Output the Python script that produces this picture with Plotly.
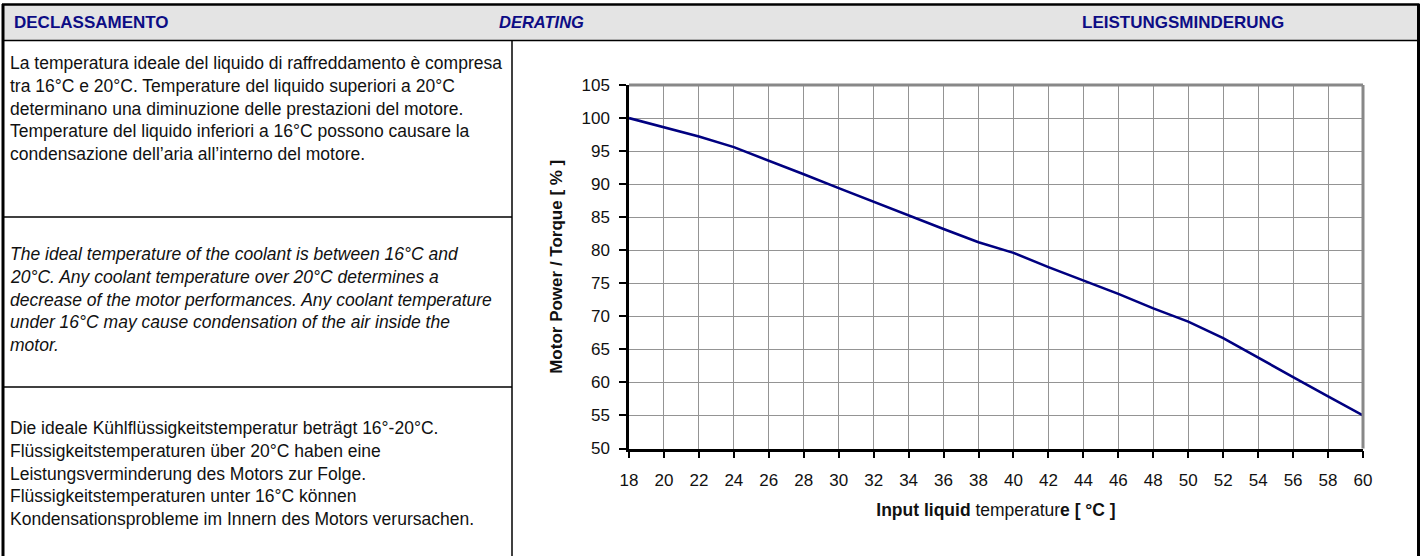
import plotly.graph_objects as go

W, H = 1426, 556

# ---- data ----
temperature_c = [18, 20, 22, 24, 26, 28, 30, 32, 34, 36, 38, 40, 42, 44, 46, 48, 50, 52, 54, 56, 58, 60]
power_torque_pct = [100, 98.6, 97.2, 95.6, 93.6, 91.5, 89.4, 87.3, 85.2, 83.2, 81.2, 79.6, 77.45, 75.4, 73.4, 71.2, 69.2, 66.7, 63.7, 60.8, 57.9, 55]
x_ticks = list(range(18, 61, 2))
y_ticks = list(range(50, 106, 5))

header_texts = ["DECLASSAMENTO", "DERATING", "LEISTUNGSMINDERUNG"]
text_it = [
    "La temperatura ideale del liquido di raffreddamento è compresa",
    "tra 16°C e 20°C. Temperature del liquido superiori a 20°C",
    "determinano una diminuzione delle prestazioni del motore.",
    "Temperature del liquido inferiori a 16°C possono causare la",
    "condensazione dell’aria all’interno del motore.",
]
text_en = [
    "The ideal temperature of the coolant is between 16°C and",
    "20°C. Any coolant temperature over 20°C determines a",
    "decrease of the motor performances. Any coolant temperature",
    "under 16°C may cause condensation of the air inside the",
    "motor.",
]
text_de = [
    "Die ideale Kühlflüssigkeitstemperatur beträgt 16°-20°C.",
    "Flüssigkeitstemperaturen über 20°C haben eine",
    "Leistungsverminderung des Motors zur Folge.",
    "Flüssigkeitstemperaturen unter 16°C können",
    "Kondensationsprobleme im Innern des Motors verursachen.",
]

FONT = "Liberation Sans, Arial, sans-serif"
NAVY = "#0d0d85"

def px(x):
    return x / W

def py(y):
    return 1 - y / H

# plot area in pixels
PL, PR, PT, PB = 629, 1363, 85, 448.5

fig = go.Figure()
fig.add_trace(go.Scatter(
    x=temperature_c, y=power_torque_pct, mode="lines",
    line=dict(color="#000080", width=2.6), hoverinfo="skip", showlegend=False,
))

shapes = []
def rect(x0, y0, x1, y1, fill=None):
    shapes.append(dict(type="rect", xref="paper", yref="paper",
                       x0=px(x0), x1=px(x1), y0=py(y1), y1=py(y0),
                       fillcolor=fill, line=dict(width=0), layer="below"))
def line(x0, y0, x1, y1, c="black", w=1, layer="above"):
    shapes.append(dict(type="line", xref="paper", yref="paper",
                       x0=px(x0), x1=px(x1), y0=py(y0), y1=py(y1),
                       line=dict(color=c, width=w), layer=layer))

# header band
rect(3, 5, 1418, 40, fill="#e4e4e4")
line(2, 4.5, 1419.5, 4.5, w=2.5)
line(2, 40.5, 1419.5, 40.5, w=1.5)
# outer borders
line(3, 4, 3, 556, w=3)
line(1418.5, 4, 1418.5, 556, w=3)
# left column divider and row dividers
line(512, 41, 512, 556, w=1.5)
line(3, 217, 512, 217, w=1.5)
line(3, 387, 512, 387, w=1.5)

# plot area frame: gray top/right
line(PL, PT, PR, PT, c="#888888", w=3)
line(PR, PT, PR, PB, c="#888888", w=3)

ann = []
hdr_y = 22.5
ann.append(dict(text="<b>" + header_texts[0] + "</b>", x=px(12), y=py(hdr_y), xanchor="left", yanchor="middle",
                font=dict(family=FONT, size=17, color=NAVY)))
ann.append(dict(text="<b><i>" + header_texts[1] + "</i></b>", x=px(497), y=py(hdr_y), xanchor="left", yanchor="middle",
                font=dict(family=FONT, size=16.5, color=NAVY)))
ann.append(dict(text="<b>" + header_texts[2] + "</b>", x=px(1080), y=py(hdr_y), xanchor="left", yanchor="middle",
                font=dict(family=FONT, size=17, color=NAVY)))

def block(lines, y0, italic=False):
    for i, t in enumerate(lines):
        txt = "<i>" + t + "</i>" if italic else t
        ann.append(dict(text=txt, x=px(8), y=py(y0 + i * 22.8), xanchor="left", yanchor="middle",
                        font=dict(family=FONT, size=17.5, color="#111111")))

block(text_it, 63)
block(text_en, 254, italic=True)
block(text_de, 428)

for a in ann:
    a.update(xref="paper", yref="paper", showarrow=False)

axis_common = dict(showgrid=True, gridcolor="#949494", gridwidth=1, ticks="outside", ticklen=7,
                   tickwidth=1.5, tickcolor="black", showline=True, linecolor="black", linewidth=2.5,
                   tickfont=dict(family=FONT, size=17, color="#111111"), zeroline=False)

fig.update_layout(
    width=W, height=H, margin=dict(l=0, r=0, t=0, b=0, autoexpand=False),
    paper_bgcolor="white", plot_bgcolor="white",
    xaxis=dict(domain=[px(PL), px(PR)], range=[18, 60], tickvals=x_ticks, ticklabelstandoff=7,
               title=dict(text="<b>Input liquid</b> temperatur<b>e [ °C ]</b>", standoff=16,
                          font=dict(family=FONT, size=17.5, color="#111111")),
               **axis_common),
    yaxis=dict(domain=[py(PB), py(PT)], range=[50, 105], tickvals=y_ticks, ticklabelstandoff=6,
               title=dict(text="<b>Motor Power / Torque [ % ]</b>", standoff=15,
                          font=dict(family=FONT, size=17, color="#111111")),
               **axis_common),
    shapes=shapes, annotations=ann, showlegend=False,
)

fig.write_html("out.html", config={"displayModeBar": False},
               post_script="document.body.style.margin='0';document.body.style.overflow='hidden';")
